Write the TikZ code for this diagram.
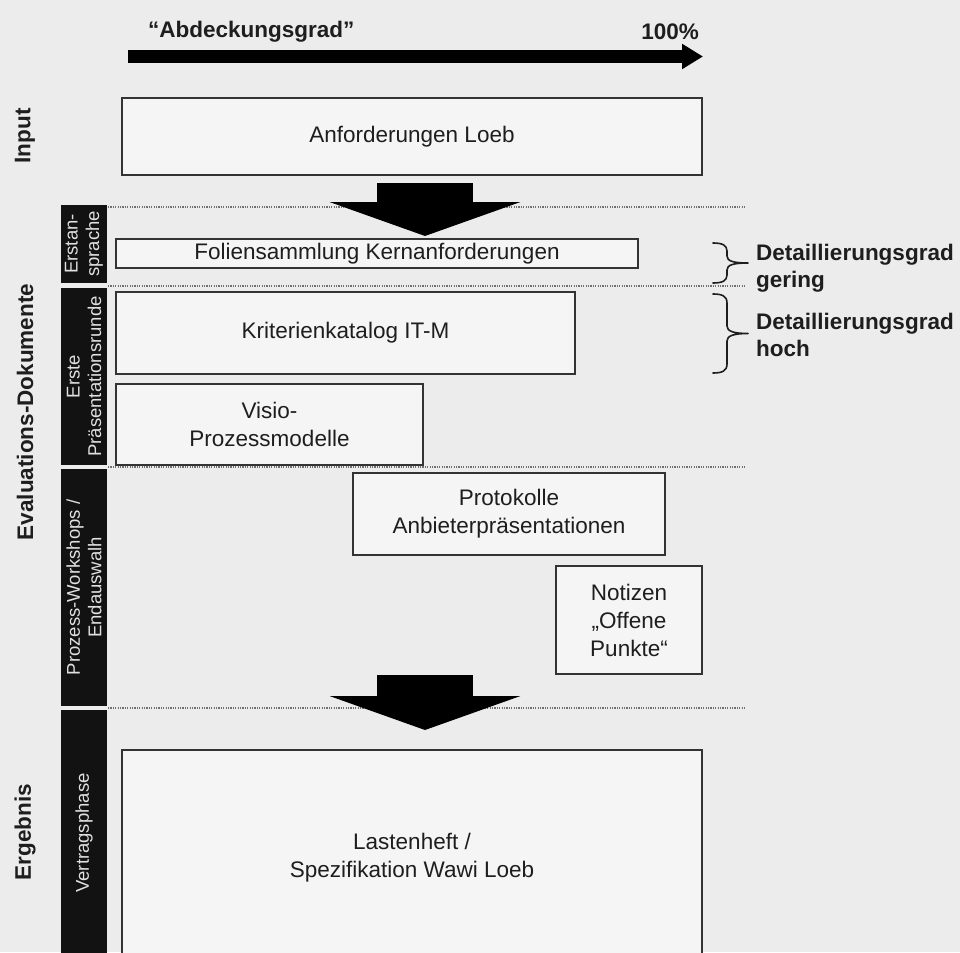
\documentclass[tikz,border=0pt]{standalone}
\usepackage{fontspec}
\setmainfont{Liberation Sans}
\usetikzlibrary{arrows.meta}
\definecolor{bg}{HTML}{ECECEC}
\definecolor{boxfill}{HTML}{F5F5F5}
\definecolor{boxline}{HTML}{333333}
\definecolor{ink}{HTML}{1E1E1E}
\definecolor{barc}{HTML}{121212}
\definecolor{bartext}{HTML}{E0E0E0}
\definecolor{dotc}{HTML}{707070}
\tikzset{
  docbox/.style={draw=boxline, line width=1.8pt, fill=boxfill, text=ink,
    font=\fontsize{22.5}{28}\selectfont, align=center, inner sep=0pt},
  barseg/.style={fill=barc, draw=none, text=bartext, rotate=90,
    font=\fontsize{18.5}{21.5}\selectfont, align=center, inner sep=0pt,
    minimum height=46pt},
  sidelabel/.style={text=ink, rotate=90, inner sep=0pt,
    font=\bfseries\fontsize{22.5}{27}\selectfont},
  toplabel/.style={text=ink, inner sep=0pt,
    font=\bfseries\fontsize{22.5}{27}\selectfont},
  sidenote/.style={text=ink, inner sep=0pt, align=left,
    font=\bfseries\fontsize{22.5}{27.5}\selectfont},
  sepline/.style={draw=dotc, line width=1.3pt, dash pattern=on 1.2pt off 1.2pt},
  toparrow/.style={draw=black, line width=12.5pt, -{Triangle[length=21pt,width=24pt]}},
  blockarrow/.style={draw=black, line width=96pt, -{Triangle[length=34pt,width=190pt]}},
  bracestyle/.style={draw=ink, line width=1.6pt, line cap=round, line join=round}
}
\begin{document}
\begin{tikzpicture}[x=1pt,y=-1pt]
\clip (0,0) rectangle (960,952);
\fill[bg] (0,0) rectangle (960,952);

% top arrow and labels
\coordinate (ta0) at (128,56.5);
\coordinate (ta1) at (703,56.5);
\draw[toparrow] (ta0) -- (ta1);
\node[toplabel, anchor=base west] (abd) at (148,38) {“Abdeckungsgrad”};
\node[toplabel, anchor=base east] (hundert) at (699,40) {100\%};

% left phase labels
\node[sidelabel] (linput) at (25,136) {Input};
\node[sidelabel] (leval) at (25,412) {Evaluations-Dokumente};
\node[sidelabel] (lerg) at (25,832) {Ergebnis};

% black bar segments
\node[barseg, minimum width=78pt] (s1) at (84,244) {Erstan-\\sprache};
\node[barseg, minimum width=177pt] (s2) at (84,376.5) {Erste\\Präsentationsrunde};
\node[barseg, minimum width=237pt] (s3) at (84,587.5) {Prozess-Workshops /\\Endauswalh};
\node[barseg, minimum width=246pt] (s4) at (84,833) {Vertragsphase};

% dotted separators
\coordinate (d1a) at (108,207); \coordinate (d1b) at (745,207);
\coordinate (d2a) at (108,286); \coordinate (d2b) at (745,286);
\coordinate (d3a) at (108,467); \coordinate (d3b) at (745,467);
\coordinate (d4a) at (108,708); \coordinate (d4b) at (745,708);
\draw[sepline] (d1a) -- (d1b);
\draw[sepline] (d2a) -- (d2b);
\draw[sepline] (d3a) -- (d3b);
\draw[sepline] (d4a) -- (d4b);

% document boxes
\node[docbox, minimum width=580pt, minimum height=77pt] (input) at (412,136.5) {Anforderungen Loeb};
\node[docbox, minimum width=522pt, minimum height=29pt] (folien) at (377,253.5) {Foliensammlung Kernanforderungen};
\node[docbox, minimum width=459pt, minimum height=82pt] (krit) at (345.5,333) {Kriterienkatalog IT-M};
\node[docbox, minimum width=307pt, minimum height=81pt] (visio) at (269.5,424.5) {Visio-\\Prozessmodelle};
\node[docbox, minimum width=312pt, minimum height=82pt] (proto) at (509,514) {Protokolle\\Anbieterpräsentationen};
\node[docbox, minimum width=146pt, minimum height=108pt] (notiz) at (629,620) {Notizen\\„Offene\\Punkte“};
\node[docbox, minimum width=580pt, minimum height=215pt] (lasten) at (412,857.5) {Lastenheft /\\Spezifikation Wawi Loeb};

% block arrows
\coordinate (a1s) at (425,183); \coordinate (a1e) at (425,236);
\coordinate (a2s) at (425,675); \coordinate (a2e) at (425,730);
\draw[blockarrow] (a1s) -- (a1e);
\draw[blockarrow] (a2s) -- (a2e);

% braces
\draw[bracestyle] (713,243) .. controls (722,243) and (727,245) .. (727,251)
  -- (727,256) .. controls (727,261) and (733,263) .. (748,263)
  .. controls (733,263) and (727,265) .. (727,270)
  -- (727,275) .. controls (727,281) and (722,283) .. (713,283);
\draw[bracestyle] (713,294) .. controls (722,294) and (727,296) .. (727,303)
  -- (727,326) .. controls (727,331) and (733,333.5) .. (748,333.5)
  .. controls (733,333.5) and (727,336) .. (727,341)
  -- (727,364) .. controls (727,371) and (722,373) .. (713,373);
\node[sidenote, anchor=west] (dg1) at (756,268) {Detaillierungsgrad\\gering};
\node[sidenote, anchor=west] (dg2) at (756,335) {Detaillierungsgrad\\hoch};
\end{tikzpicture}
\end{document}
